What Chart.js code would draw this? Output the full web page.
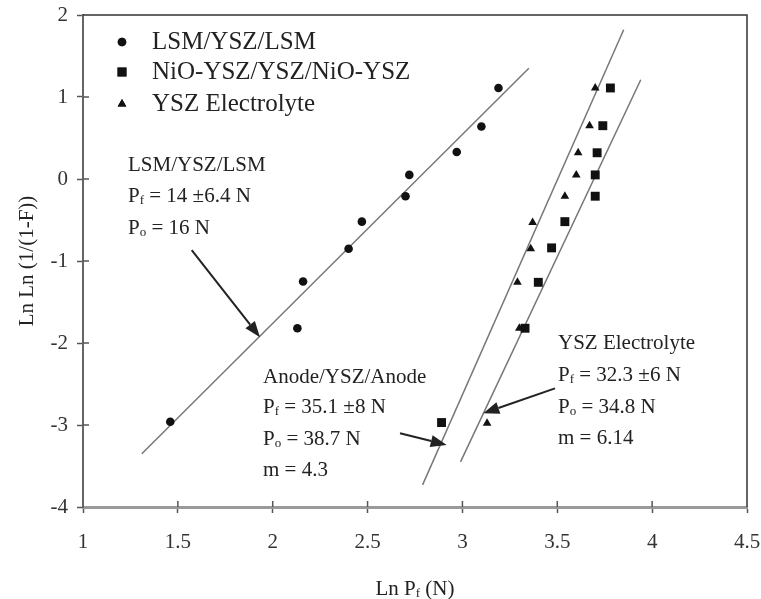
<!DOCTYPE html>
<html>
<head>
<meta charset="utf-8">
<script src="https://cdn.jsdelivr.net/npm/chart.js@4.4.1/dist/chart.umd.min.js"></script>
<style>
  body { margin: 0; background: #fff; }
  #wrap { width: 761px; height: 599px; }
</style>
</head>
<body>
<div id="wrap"><canvas id="weibullChart" width="761" height="599"></canvas></div>
<script>
// --- data ---
const lsmX = [1.46, 2.13, 2.16, 2.40, 2.47, 2.70, 2.72, 2.97, 3.10, 3.19];
const lsmY = [-2.96, -1.82, -1.25, -0.85, -0.52, -0.21, 0.05, 0.33, 0.64, 1.11];

const nioX = [2.89, 3.33, 3.40, 3.47, 3.54, 3.70, 3.70, 3.71, 3.74, 3.78];
const nioY = [-2.97, -1.82, -1.26, -0.84, -0.52, -0.21, 0.05, 0.32, 0.65, 1.11];

const yszX = [3.13, 3.30, 3.29, 3.36, 3.37, 3.54, 3.60, 3.61, 3.67, 3.70];
const yszY = [-2.98, -1.82, -1.26, -0.85, -0.53, -0.21, 0.05, 0.32, 0.65, 1.11];

// fit lines (end points)
const lsmFitX = [1.31, 3.35];
const lsmFitY = [-3.35, 1.35];
const fitAX = [2.79, 3.85];
const fitAY = [-3.73, 1.82];
const fitBX = [2.99, 3.94];
const fitBY = [-3.45, 1.21];

// arrows [fromX, fromY, toX, toY]
const arrowLsm = [1.573, -0.866, 1.933, -1.93];
const arrowAnode = [2.671, -3.10, 2.917, -3.244];
const arrowYsz = [3.488, -2.553, 3.110, -2.857];

const xTicks = [1, 1.5, 2, 2.5, 3, 3.5, 4, 4.5];
const yTicks = [-4, -3, -2, -1, 0, 1, 2];

const seriesNames = ["LSM/YSZ/LSM", "NiO-YSZ/YSZ/NiO-YSZ", "YSZ Electrolyte"];

const SERIF = "'Liberation Serif', 'Times New Roman', serif";
const INK = "#222";

function toPoints(xs, ys) {
  return xs.map((x, i) => ({ x: x, y: ys[i] }));
}

// text with subscripts: segments are [text, isSub]
function drawRich(ctx, x, y, segs, size) {
  let cx = x;
  segs.forEach(([t, sub]) => {
    const fs = sub ? Math.round(size * 0.62) : size;
    ctx.font = fs + "px " + SERIF;
    ctx.fillText(t, cx, sub ? y + size * 0.22 : y);
    cx += ctx.measureText(t).width;
  });
}

function drawArrow(ctx, chart, a) {
  const xs = chart.scales.x, ys = chart.scales.y;
  const x1 = xs.getPixelForValue(a[0]), y1 = ys.getPixelForValue(a[1]);
  const x2 = xs.getPixelForValue(a[2]), y2 = ys.getPixelForValue(a[3]);
  const ang = Math.atan2(y2 - y1, x2 - x1);
  const head = 16, half = 6;
  const bx = x2 - head * Math.cos(ang), by = y2 - head * Math.sin(ang);
  ctx.strokeStyle = INK;
  ctx.fillStyle = INK;
  ctx.lineWidth = 2;
  ctx.beginPath();
  ctx.moveTo(x1, y1);
  ctx.lineTo(bx, by);
  ctx.stroke();
  ctx.beginPath();
  ctx.moveTo(x2, y2);
  ctx.lineTo(bx + half * Math.sin(ang), by - half * Math.cos(ang));
  ctx.lineTo(bx - half * Math.sin(ang), by + half * Math.cos(ang));
  ctx.closePath();
  ctx.fill();
}

const frameAndNotes = {
  id: "frameAndNotes",
  afterDraw(chart) {
    const ctx = chart.ctx;
    const area = chart.chartArea;
    const xs = chart.scales.x, ys = chart.scales.y;
    ctx.save();

    // top and right frame
    ctx.strokeStyle = "#333";
    ctx.lineWidth = 1.5;
    ctx.beginPath();
    ctx.moveTo(area.left, area.top);
    ctx.lineTo(area.right, area.top);
    ctx.lineTo(area.right, area.bottom);
    ctx.stroke();

    // inner half of the crossing ticks
    ctx.strokeStyle = "#555";
    ctx.lineWidth = 1.5;
    xTicks.slice(1, -1).forEach((v) => {
      const px = xs.getPixelForValue(v);
      ctx.beginPath();
      ctx.moveTo(px, area.bottom);
      ctx.lineTo(px, area.bottom - 6);
      ctx.stroke();
    });
    yTicks.slice(1, -1).forEach((v) => {
      const py = ys.getPixelForValue(v);
      ctx.beginPath();
      ctx.moveTo(area.left, py);
      ctx.lineTo(area.left + 6, py);
      ctx.stroke();
    });

    // legend
    ctx.fillStyle = INK;
    ctx.textBaseline = "middle";
    const legendRows = [42, 72, 104];
    chart.data.datasets.slice(0, 3).forEach((ds, i) => {
      ctx.fillStyle = "#111";
      Chart.helpers.drawPoint(ctx, {
        pointStyle: ds.pointStyle,
        radius: ds.pointRadius,
        rotation: 0,
        borderWidth: 0
      }, 122, legendRows[i]);
      ctx.fill();
      ctx.fillStyle = INK;
      ctx.font = "25px " + SERIF;
      ctx.fillText(seriesNames[i], 152, legendRows[i]);
    });

    // annotation blocks
    ctx.textBaseline = "middle";
    ctx.fillStyle = INK;
    const fs = 21;
    drawRich(ctx, 128, 165, [["LSM/YSZ/LSM", false]], fs);
    drawRich(ctx, 128, 196, [["P", false], ["f", true], [" = 14 \u00b16.4 N", false]], fs);
    drawRich(ctx, 128, 228, [["P", false], ["o", true], [" = 16 N", false]], fs);

    drawRich(ctx, 263, 377, [["Anode/YSZ/Anode", false]], fs);
    drawRich(ctx, 263, 407, [["P", false], ["f", true], [" = 35.1 \u00b18 N", false]], fs);
    drawRich(ctx, 263, 439, [["P", false], ["o", true], [" = 38.7 N", false]], fs);
    drawRich(ctx, 263, 470, [["m = 4.3", false]], fs);

    drawRich(ctx, 558, 343, [["YSZ Electrolyte", false]], fs);
    drawRich(ctx, 558, 375, [["P", false], ["f", true], [" = 32.3 \u00b16 N", false]], fs);
    drawRich(ctx, 558, 407, [["P", false], ["o", true], [" = 34.8 N", false]], fs);
    drawRich(ctx, 558, 438, [["m = 6.14", false]], fs);

    drawArrow(ctx, chart, arrowLsm);
    drawArrow(ctx, chart, arrowAnode);
    drawArrow(ctx, chart, arrowYsz);

    // x axis title with subscript
    ctx.fillStyle = INK;
    ctx.textBaseline = "middle";
    const parts = [["Ln P", false], ["f", true], [" (N)", false]];
    let w = 0;
    parts.forEach(([t, sub]) => {
      ctx.font = (sub ? 13 : 21) + "px " + SERIF;
      w += ctx.measureText(t).width;
    });
    drawRich(ctx, (area.left + area.right) / 2 - w / 2, 589, parts, 21);

    ctx.restore();
  }
};

const fitStyle = {
  type: "line",
  showLine: true,
  borderColor: "#777",
  borderWidth: 1.5,
  pointRadius: 0,
  fill: false
};

const ctx = document.getElementById("weibullChart").getContext("2d");
new Chart(ctx, {
  type: "scatter",
  data: {
    datasets: [
      { label: seriesNames[0], data: toPoints(lsmX, lsmY), pointStyle: "circle", pointRadius: 4.3, backgroundColor: "#111", borderWidth: 0 },
      { label: seriesNames[1], data: toPoints(nioX, nioY), pointStyle: "rect", pointRadius: 6.3, backgroundColor: "#111", borderWidth: 0 },
      { label: seriesNames[2], data: toPoints(yszX, yszY), pointStyle: "triangle", pointRadius: 5, backgroundColor: "#111", borderWidth: 0 },
      Object.assign({ label: "LSM fit", data: toPoints(lsmFitX, lsmFitY) }, fitStyle),
      Object.assign({ label: "fit A", data: toPoints(fitAX, fitAY) }, fitStyle),
      Object.assign({ label: "fit B", data: toPoints(fitBX, fitBY) }, fitStyle)
    ]
  },
  options: {
    responsive: false,
    animation: false,
    devicePixelRatio: 1,
    layout: { padding: 0 },
    plugins: {
      legend: { display: false },
      tooltip: { enabled: false }
    },
    scales: {
      x: {
        type: "linear",
        min: 1,
        max: 4.5,
        afterBuildTicks: (scale) => { scale.ticks = xTicks.map((v) => ({ value: v })); },
        afterFit: (scale) => {
          scale.height = 92;
          scale.paddingLeft = 0;
          scale.paddingRight = 14;
        },
        border: { color: "#9a9a9a", width: 3 },
        grid: { drawOnChartArea: false, tickLength: 6, color: "#555", tickWidth: 1.5 },
        ticks: {
          color: "#333",
          padding: 17,
          font: { family: SERIF, size: 21 },
          callback: (v) => String(v)
        }
      },
      y: {
        type: "linear",
        min: -4,
        max: 2,
        afterBuildTicks: (scale) => { scale.ticks = yTicks.map((v) => ({ value: v })); },
        afterFit: (scale) => {
          scale.width = 83;
          scale.paddingTop = 15;
          scale.paddingBottom = 0;
        },
        border: { color: "#666", width: 2 },
        grid: { drawOnChartArea: false, tickLength: 6, color: "#555", tickWidth: 1.5 },
        ticks: {
          color: "#333",
          padding: 9,
          font: { family: SERIF, size: 21 },
          callback: (v) => String(v)
        },
        title: {
          display: true,
          text: "Ln Ln (1/(1-F))",
          color: INK,
          font: { family: SERIF, size: 21 },
          padding: { top: 15, bottom: 0 }
        }
      }
    }
  },
  plugins: [frameAndNotes]
});
</script>
</body>
</html>
